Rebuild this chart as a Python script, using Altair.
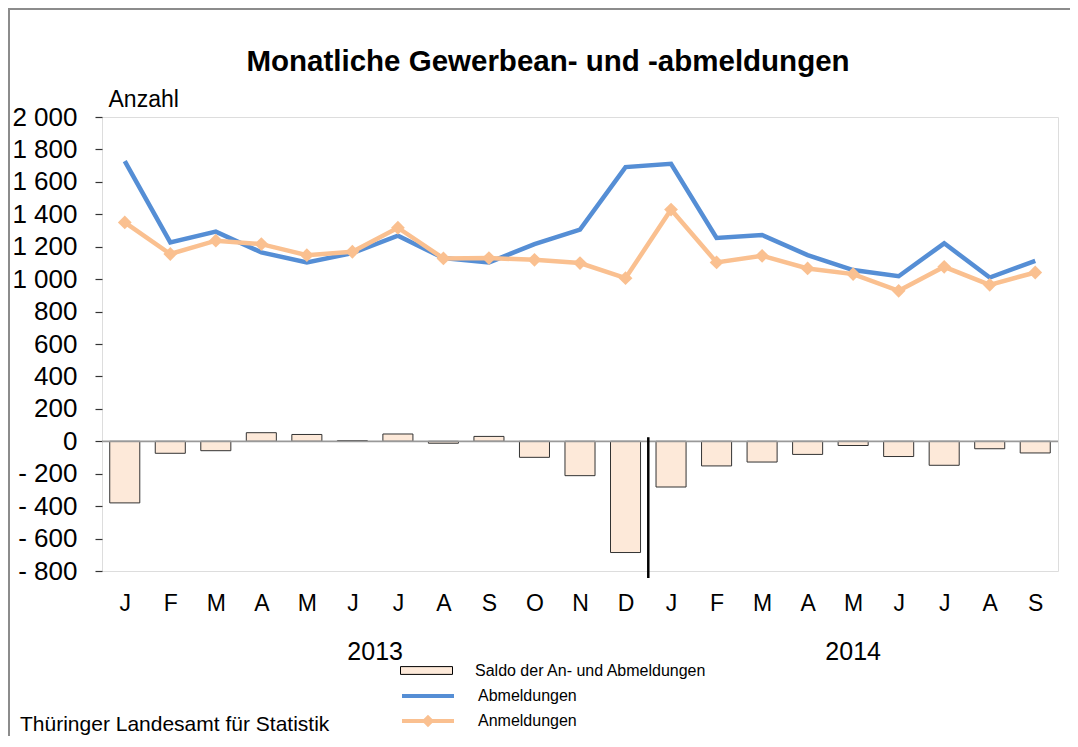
import altair as alt
import pandas as pd

# ---- data ----
monate = ["J", "F", "M", "A", "M", "J", "J", "A", "S", "O", "N", "D",
          "J", "F", "M", "A", "M", "J", "J", "A", "S"]
jahre = ["2013"] * 12 + ["2014"] * 9
abmeldungen = [1728, 1227, 1293, 1165, 1103, 1160, 1268, 1130, 1103, 1216, 1305, 1691,
               1711, 1254, 1272, 1148, 1056, 1018, 1221, 1010, 1113]
anmeldungen = [1350, 1155, 1237, 1216, 1148, 1169, 1317, 1128, 1130, 1119, 1099, 1006,
               1429, 1103, 1144, 1066, 1031, 928, 1076, 965, 1041]
saldo = [-380, -74, -58, 53, 42, 4, 45, -12, 30, -99, -212, -686,
         -282, -152, -128, -81, -26, -94, -148, -46, -72]
y_ticks = list(range(-800, 2001, 200))

LBL_SALDO = "Saldo der An- und Abmeldungen"
LBL_AB = "Abmeldungen"
LBL_AN = "Anmeldungen"
TITLE = "Monatliche Gewerbean- und -abmeldungen"
QUELLE = "Thüringer Landesamt für Statistik"

df = pd.DataFrame({
    "idx": list(range(len(monate))),
    "monat": monate,
    "jahr": jahre,
    "ab": abmeldungen,
    "an": anmeldungen,
    "saldo": saldo,
})

FONT = "Liberation Sans"
W, H = 956, 454
BLUE = "#558ED5"
ORANGE = "#FAC090"
PEACH = "#FDE9D9"

month_expr = "[" + ",".join("'%s'" % m for m in monate) + "][datum.value]"

x_scale = alt.Scale(domain=[-0.5, len(monate) - 0.5], nice=False, zero=False)
y_scale = alt.Scale(domain=[-800, 2000], nice=False)

x_axis = alt.Axis(values=list(range(len(monate))), labelExpr=month_expr, title=None,
                  grid=False, ticks=False, domain=False, labelFont=FONT,
                  labelFontSize=23, labelColor="#000", labelPadding=21, labelAngle=0,
                  labelOverlap=False)
y_axis = alt.Axis(values=y_ticks, tickCount=len(y_ticks), grid=False, domain=False,
                  tickSize=7, tickColor="#333", tickWidth=1.2, labelOverlap=False,
                  labelExpr="datum.value < 0 ? '- ' + replace(format(abs(datum.value), ','), ',', ' ') : replace(format(datum.value, ','), ',', ' ')",
                  labelFont=FONT, labelFontSize=26, labelColor="#000", labelPadding=18,
                  title="Anzahl", titleAngle=0, titleAlign="left", titleBaseline="alphabetic",
                  titleX=6, titleY=-11, titleFont=FONT, titleFontSize=23,
                  titleFontWeight="normal", titleColor="#000")

legend_common = dict(title=None, orient="none", legendX=298, labelFont=FONT,
                     labelFontSize=16, labelColor="#000", labelOffset=22, padding=0,
                     labelLimit=500, symbolSize=2704)

base = alt.Chart(df)

bars = base.transform_calculate(
    x0="datum.idx - 0.33", x1="datum.idx + 0.33", lbl="'%s'" % LBL_SALDO
).mark_bar(stroke="#333", strokeWidth=1).encode(
    x=alt.X("x0:Q", scale=x_scale, axis=x_axis),
    x2="x1:Q",
    y=alt.Y("saldo:Q", scale=y_scale, axis=y_axis),
    y2=alt.datum(0),
    fill=alt.Fill("lbl:N", scale=alt.Scale(domain=[LBL_SALDO], range=[PEACH]),
                  legend=alt.Legend(legendY=527, symbolType="M-1,-0.15H1V0.15H-1Z",
                                    symbolStrokeColor="#000", symbolStrokeWidth=1,
                                    **legend_common)),
)

zero = alt.Chart(pd.DataFrame({"z": [0]})).mark_rule(color="#999", strokeWidth=1.8).encode(
    y=alt.Y("z:Q", scale=y_scale, axis=y_axis)
)

line_ab = base.transform_calculate(lbl="'%s'" % LBL_AB).mark_line(strokeWidth=4.5).encode(
    x=alt.X("idx:Q", scale=x_scale, axis=x_axis),
    y=alt.Y("ab:Q", scale=y_scale, axis=y_axis),
    stroke=alt.Stroke("lbl:N", scale=alt.Scale(domain=[LBL_AB], range=[BLUE]),
                      legend=alt.Legend(legendY=551, symbolType="stroke",
                                        symbolStrokeWidth=4, **legend_common)),
)

line_an = base.transform_calculate(lbl="'%s'" % LBL_AN).mark_line(
    strokeWidth=4.5,
    point=alt.OverlayMarkDef(shape="diamond", size=190, filled=True),
).encode(
    x=alt.X("idx:Q", scale=x_scale, axis=x_axis),
    y=alt.Y("an:Q", scale=y_scale, axis=y_axis),
    color=alt.Color("lbl:N", scale=alt.Scale(domain=[LBL_AN], range=[ORANGE]),
                    legend=alt.Legend(legendY=576,
                                      symbolType="M-1,0H1M-0.13,0L0,-0.13L0.13,0L0,0.13Z",
                                      symbolStrokeWidth=4, **legend_common)),
)

sep = alt.Chart(pd.DataFrame({"s": [11.5], "top": [25]})).mark_rule(
    color="#000", strokeWidth=2.5
).encode(
    x=alt.X("s:Q", scale=x_scale, axis=x_axis),
    y=alt.Y("top:Q", scale=y_scale, axis=y_axis),
    y2=alt.value(H + 7),
)

year_lbl = base.transform_aggregate(mx="mean(idx)", groupby=["jahr"]).mark_text(
    font=FONT, fontSize=25, color="#000", baseline="alphabetic"
).encode(
    x=alt.X("mx:Q", scale=x_scale, axis=x_axis),
    y=alt.value(543),
    text="jahr:N",
)

title_txt = alt.Chart(pd.DataFrame({"t": [TITLE]})).mark_text(
    font=FONT, fontSize=29.5, fontWeight="bold", color="#000", align="center",
    baseline="alphabetic"
).encode(x=alt.value(446), y=alt.value(-46), text="t:N")

quelle = alt.Chart(pd.DataFrame({"t": [QUELLE]})).mark_text(
    font=FONT, fontSize=21, color="#000", align="left", baseline="alphabetic"
).encode(x=alt.value(-82), y=alt.value(614), text="t:N")

frame_top = alt.Chart(pd.DataFrame({"f": [1]})).mark_rule(
    color="#8c8c8c", strokeWidth=2
).encode(x=alt.value(-94), x2=alt.value(W + 30), y=alt.value(-108))
frame_left = alt.Chart(pd.DataFrame({"f": [1]})).mark_rule(
    color="#8c8c8c", strokeWidth=2
).encode(x=alt.value(-93), y=alt.value(-109), y2=alt.value(680))

chart = alt.layer(frame_top, frame_left, bars, zero, line_ab, line_an, sep, year_lbl,
                  title_txt, quelle).properties(
    width=W, height=H,
    autosize=alt.AutoSizeParams(type="none"),
    padding={"left": 94, "top": 109, "right": 12, "bottom": 165},
).resolve_scale(color="independent").configure_view(
    stroke="#262626", strokeWidth=1.5
).configure(background="white")

chart.save("out.html", embed_options={"renderer": "svg", "actions": False})
